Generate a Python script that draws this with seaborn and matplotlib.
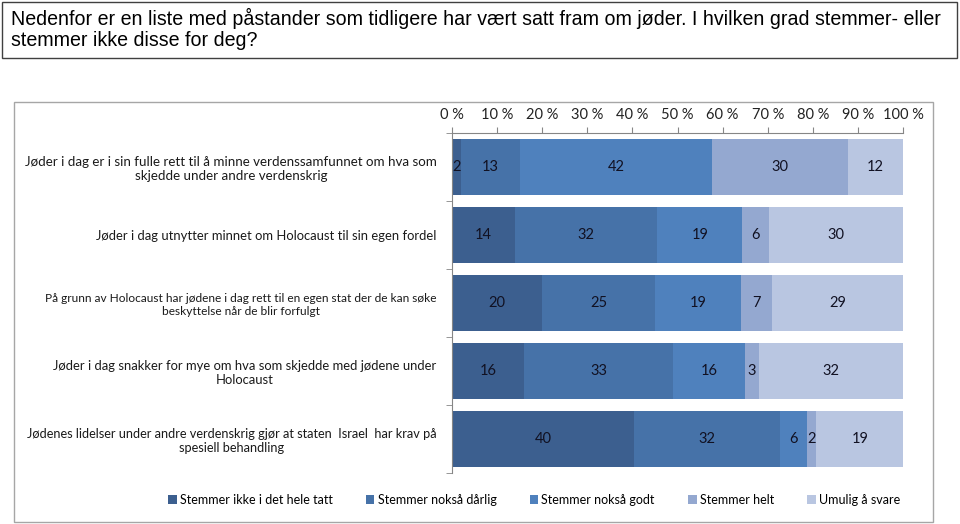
import numpy as np
import pandas as pd
import matplotlib
matplotlib.use("Agg")
import matplotlib.pyplot as plt
import seaborn as sns
from matplotlib.patches import Rectangle, Patch
from matplotlib.ticker import FuncFormatter, FixedLocator

title = ("Nedenfor er en liste med påstander som tidligere har vært satt fram om jøder. I hvilken grad stemmer- eller\n"
         "stemmer ikke disse for deg?")

statements = [
    "Jøder i dag er i sin fulle rett til å minne verdenssamfunnet om hva som\nskjedde under andre verdenskrig",
    "Jøder i dag utnytter minnet om Holocaust til sin egen fordel",
    "På grunn av Holocaust har jødene i dag rett til en egen stat der de kan søke\nbeskyttelse når de blir forfulgt",
    "Jøder i dag snakker for mye om hva som skjedde med jødene under\nHolocaust",
    "Jødenes lidelser under andre verdenskrig gjør at staten  Israel  har krav på\nspesiell behandling",
]
series = ["Stemmer ikke i det hele tatt", "Stemmer nokså dårlig", "Stemmer nokså godt",
          "Stemmer helt", "Umulig å svare"]
ikke = [2, 14, 20, 16, 40]
darlig = [13, 32, 25, 33, 32]
godt = [42, 19, 19, 16, 6]
helt = [30, 6, 7, 3, 2]
umulig = [12, 30, 29, 32, 19]
tick_values = [0, 10, 20, 30, 40, 50, 60, 70, 80, 90, 100]

colors = ["#3C5F8F", "#4672A8", "#4F81BD", "#94A8D0", "#B9C6E1"]
label_sizes = [9.6, 9.4, 8.6, 9.4, 9.2]

raw = np.array([ikke, darlig, godt, helt, umulig], dtype=float)  # series x rows
share = raw / raw.sum(axis=0) * 100.0  # 100% stacked, like the original chart type
cum = np.cumsum(share, axis=0)

W, H = 960, 524
fig = plt.figure(figsize=(W / 100, H / 100), dpi=100)
fig.patch.set_facecolor("white")

# frames
fig.add_artist(Rectangle((2 / W, 1 - 58 / H), 955 / W, 56 / H, transform=fig.transFigure,
                         fill=False, edgecolor="#404040", lw=1.0))
fig.add_artist(Rectangle((14 / W, 1 - 522 / H), 919 / W, 420 / H, transform=fig.transFigure,
                         fill=False, edgecolor="#A6A6A6", lw=1.0))
fig.text(11 / W, 1 - 8 / H, title, ha="left", va="top", fontsize=14.1,
         family=["Liberation Sans", "DejaVu Sans"], linespacing=1.13, color="#000000")

ax = fig.add_axes([452 / W, 1 - 473 / H, 451 / W, 340 / H])

# stacked bars: draw cumulative totals from last series to first
for i in range(len(series) - 1, -1, -1):
    df = pd.DataFrame({"statement": statements, "value": cum[i]})
    sns.barplot(data=df, x="value", y="statement", orient="h", color=colors[i],
                saturation=1, width=0.81, ax=ax, edgecolor="none", linewidth=0)

# data labels
for i in range(len(series)):
    for j in range(len(statements)):
        xc = cum[i, j] - share[i, j] / 2
        ax.text(xc, j, f"{int(raw[i, j])}", ha="center", va="center", fontsize=10.5,
                family="Lato", color="#111122")

ax.set_xlim(0, 100)
ax.set_ylim(len(statements) - 0.5, -0.5)
ax.xaxis.set_major_locator(FixedLocator(tick_values))
ax.xaxis.set_major_formatter(FuncFormatter(lambda v, p: f"{int(v)} %"))
ax.xaxis.tick_top()
ax.tick_params(axis="x", which="major", length=4, color="#868686", labelsize=10.5,
               labelcolor="#222222", pad=4)
for lab in ax.get_xticklabels():
    lab.set_family("Lato")
ax.set_xlabel("")
ax.set_ylabel("")

ax.tick_params(axis="y", which="major", length=0, pad=11)
ax.yaxis.set_minor_locator(FixedLocator(np.arange(-0.5, len(statements), 1.0)))
ax.tick_params(axis="y", which="minor", length=4, color="#868686")
for lab, fs in zip(ax.get_yticklabels(), label_sizes):
    lab.set_family("Lato")
    lab.set_fontsize(fs)
    lab.set_multialignment("center")
    lab.set_color("#1a1a1a")

for s in ["right", "bottom"]:
    ax.spines[s].set_visible(False)
ax.spines["top"].set_color("#868686")
ax.spines["left"].set_color("#868686")
ax.grid(False)
ax.set_facecolor("none")
if ax.get_legend():
    ax.get_legend().remove()

handles = [Patch(facecolor=c, edgecolor="none") for c in colors]
fig.legend(handles, series, loc="center", bbox_to_anchor=(534 / W, 1 - 500 / H), ncol=5,
           frameon=False, handlelength=0.7, handleheight=0.7, handletextpad=0.25,
           columnspacing=2.65, prop={"family": "Lato", "size": 9.0})

fig.savefig("out.png", dpi=100, facecolor="white")
